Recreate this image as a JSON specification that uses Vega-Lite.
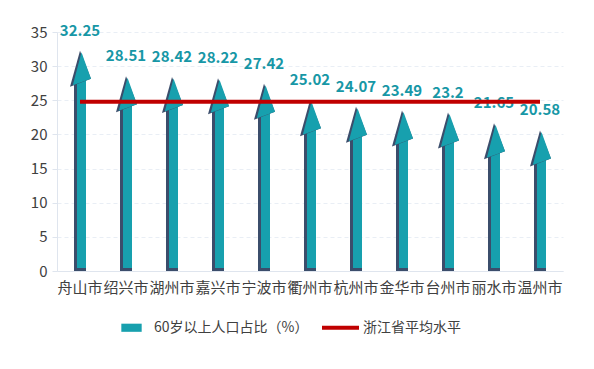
{
  "$schema": "https://vega.github.io/schema/vega-lite/v6.json",
  "width": 506,
  "height": 239,
  "autosize": "none",
  "padding": {"left": 57, "top": 32, "right": 31, "bottom": 98},
  "background": "white",
  "config": {
    "font": "Noto Sans CJK SC",
    "view": {"stroke": null},
    "axisY": {
      "labelOverlap": false,
      "labelFontSize": 15,
      "labelColor": "#404040",
      "labelPadding": 5,
      "tickSize": 5,
      "tickColor": "#dfe5ee",
      "domainColor": "#dfe5ee",
      "gridColor": "#e9eef5",
      "gridDash": [4, 3],
      "gridWidth": 1,
      "tickCount": 8
    }
  },
  "data": {
    "values": [
      {"city": "舟山市", "ratio": 32.25, "avg": 24.8},
      {"city": "绍兴市", "ratio": 28.51, "avg": 24.8},
      {"city": "湖州市", "ratio": 28.42, "avg": 24.8},
      {"city": "嘉兴市", "ratio": 28.22, "avg": 24.8},
      {"city": "宁波市", "ratio": 27.42, "avg": 24.8},
      {"city": "衢州市", "ratio": 25.02, "avg": 24.8},
      {"city": "杭州市", "ratio": 24.07, "avg": 24.8},
      {"city": "金华市", "ratio": 23.49, "avg": 24.8},
      {"city": "台州市", "ratio": 23.2, "avg": 24.8},
      {"city": "丽水市", "ratio": 21.65, "avg": 24.8},
      {"city": "温州市", "ratio": 20.58, "avg": 24.8}
    ]
  },
  "encoding": {
    "x": {
      "field": "city",
      "type": "nominal",
      "sort": null,
      "title": null,
      "scale": {"paddingInner": 0, "paddingOuter": 0},
      "axis": {
        "labelAngle": 0,
        "labelFontSize": 15,
        "labelColor": "#404040",
        "labelPadding": 9,
        "labelOverlap": false,
        "ticks": false,
        "domain": true,
        "domainColor": "#dfe5ee",
        "domainWidth": 1,
        "grid": false
      }
    }
  },
  "layer": [
    {
      "mark": {"type": "bar", "width": 12, "color": "#3b4d6b", "yOffset": 28, "y2Offset": 0},
      "encoding": {
        "y": {
          "field": "ratio",
          "type": "quantitative",
          "title": null,
          "scale": {"domain": [0, 35], "nice": false},
          "axis": {
            "values": [0, 5, 10, 15, 20, 25, 30, 35],
            "labelOverlap": false,
            "labelFontSize": 15,
            "labelColor": "#404040",
            "labelPadding": 5,
            "tickSize": 5,
            "tickColor": "#dfe5ee",
            "domainColor": "#dfe5ee",
            "gridColor": "#e9eef5",
            "gridDash": [4, 3],
            "gridWidth": 1
          }
        },
        "y2": {"datum": 0}
      }
    },
    {
      "mark": {"type": "bar", "width": 9, "xOffset": 1.5, "yOffset": 28, "y2Offset": -3},
      "encoding": {
        "y": {"field": "ratio", "type": "quantitative"},
        "y2": {"datum": 0},
        "color": {
          "datum": "60岁以上人口占比（%）",
          "type": "nominal",
          "scale": {
            "domain": ["60岁以上人口占比（%）", "浙江省平均水平"],
            "range": ["#17a0ae", "#c00000"]
          },
          "legend": {
            "title": null,
            "orient": "none",
            "direction": "horizontal",
            "legendX": 56,
            "legendY": 277,
            "labelFontSize": 14,
            "labelColor": "#404040",
            "labelOffset": 4,
            "columnPadding": 13,
            "symbolSize": 1369,
            "encode": {
              "symbols": {
                "update": {
                  "shape": {"signal": "datum.value == '浙江省平均水平' ? 'M-1,-0.11L1,-0.11L1,0.11L-1,0.11Z' : 'M-0.55,-0.22L0.55,-0.22L0.55,0.22L-0.55,0.22Z'"},
                  "fill": {"signal": "datum.value == '浙江省平均水平' ? '#c00000' : '#17a0ae'"},
                  "stroke": {"value": "transparent"},
                  "strokeWidth": {"value": 0},
                  "opacity": {"value": 1},
                  "fillOpacity": {"value": 1}
                }
              }
            }
          }
        }
      }
    },
    {
      "mark": {
        "type": "point",
        "filled": true,
        "size": 400,
        "opacity": 1,
        "strokeWidth": 0,
        "color": "#3b4d6b",
        "shape": "M0,0L1.1,2.8L-1.0,3.6Z"
      },
      "encoding": {
        "y": {"field": "ratio", "type": "quantitative"}
      }
    },
    {
      "mark": {
        "type": "point",
        "filled": true,
        "size": 400,
        "opacity": 1,
        "strokeWidth": 0,
        "color": "#17a0ae",
        "shape": "M0.15,0.15L1.1,2.8L-0.72,3.45Z"
      },
      "encoding": {
        "y": {"field": "ratio", "type": "quantitative"}
      }
    },
    {
      "mark": {
        "type": "text",
        "fontSize": 15,
        "fontWeight": "bold",
        "color": "#1797a6",
        "baseline": "alphabetic",
        "dy": -15
      },
      "encoding": {
        "y": {"field": "ratio", "type": "quantitative"},
        "text": {"field": "ratio", "type": "quantitative"}
      }
    },
    {
      "mark": {"type": "line", "strokeWidth": 4},
      "encoding": {
        "y": {"field": "avg", "type": "quantitative"},
        "color": {"datum": "浙江省平均水平", "type": "nominal"}
      }
    }
  ]
}
